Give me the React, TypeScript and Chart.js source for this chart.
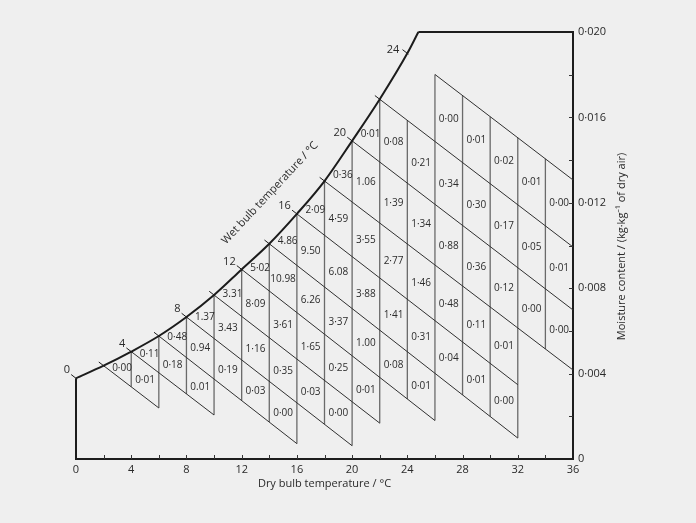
import React, { useEffect, useRef } from "react";
import { Chart, registerables } from "chart.js";

Chart.register(...registerables);

// Saturation curve (dry bulb °C -> moisture content kg/kg)
const satDb = [0, 2, 4, 6, 8, 10, 12, 14, 16, 18, 20, 22, 24, 24.8];
const satW = [0.00378, 0.00437, 0.00503, 0.00576, 0.00665, 0.00768, 0.00888, 0.01008, 0.01148, 0.01302, 0.0149, 0.01685, 0.019, 0.02];

// Wet bulb lines: start on the saturation curve at their own temperature, end at (endDb, endW)
const wbValues = [2, 4, 6, 8, 10, 12, 14, 16, 18, 20, 22, 24];
const wbEndDb = [6, 10, 16, 20, 22, 26, 32, 32, 36, 36, 36, 36];
const wbEndW = [0.00239, 0.00206, 0.00072, 0.00062, 0.00168, 0.0018, 0.00098, 0.00348, 0.00417, 0.00698, 0.00993, 0.01307];

// Curve labels
const wbLabelTemps = [0, 4, 8, 12, 16, 20, 24];

// Grid columns (dry bulb start), top and bottom wet-bulb rows, and cell values (top to bottom)
const colStart = [2, 4, 6, 8, 10, 12, 14, 16, 18, 20, 22, 24, 26, 28, 30, 32, 34];
const colTopRow = [2, 4, 6, 8, 10, 12, 14, 16, 18, 20, 20, 20, 22, 22, 22, 22, 22];
const colBottomRow = [2, 2, 4, 4, 6, 6, 6, 8, 8, 10, 12, 12, 14, 14, 14, 18, 18];
const colLabels = [
  ["0·00"],
  ["0·11", "0·01"],
  ["0·48", "0·18"],
  ["1.37", "0.94", "0.01"],
  ["3.31", "3.43", "0·19"],
  ["5·02", "8·09", "1·16", "0·03"],
  ["4.86", "10.98", "3·61", "0·35", "0·00"],
  ["2·09", "9.50", "6.26", "1·65", "0·03"],
  ["0·36", "4·59", "6.08", "3·37", "0·25", "0·00"],
  ["0·01", "1.06", "3·55", "3·88", "1.00", "0·01"],
  ["0·08", "1·39", "2·77", "1·41", "0·08"],
  ["0·21", "1·34", "1·46", "0·31", "0·01"],
  ["0·00", "0·34", "0·88", "0·48", "0·04"],
  ["0·01", "0·30", "0·36", "0·11", "0·01"],
  ["0·02", "0·17", "0·12", "0·01", "0·00"],
  ["0·01", "0·05", "0·00"],
  ["0·00", "0·01", "0·00"],
];

const X_MIN = 0, X_MAX = 36, Y_MIN = 0, Y_MAX = 0.02;
const FONT = "'Open Sans', 'Noto Sans', sans-serif";
const INK = "#1c1c1c";
const TEXT = "#2a2a2a";

function satAt(db: number): number {
  const i = satDb.indexOf(db);
  return satW[i];
}
function lineW(wb: number, db: number): number {
  const i = wbValues.indexOf(wb);
  const x0 = wb, y0 = satAt(wb), x1 = wbEndDb[i], y1 = wbEndW[i];
  return y0 + ((y1 - y0) * (db - x0)) / (x1 - x0);
}
function colTopW(ci: number, db: number): number {
  const d = colStart[ci], tr = colTopRow[ci];
  if (tr === d) return satAt(db);
  return lineW(tr + 2, db);
}
function colBottomW(ci: number, db: number): number {
  return lineW(colBottomRow[ci], db);
}

function buildLineDatasets() {
  const sets: any[] = [];
  const base = { showLine: true, pointRadius: 0, clip: false as any, fill: false, tension: 0 };
  // frame: saturation curve, top line, left line
  sets.push({ ...base, data: satDb.map((x, i) => ({ x, y: satW[i] })), borderColor: INK, borderWidth: 2, cubicInterpolationMode: "monotone" });
  sets.push({ ...base, data: [{ x: satDb[satDb.length - 1], y: Y_MAX }, { x: X_MAX, y: Y_MAX }], borderColor: INK, borderWidth: 2 });
  sets.push({ ...base, data: [{ x: 0, y: 0 }, { x: 0, y: satW[0] }], borderColor: INK, borderWidth: 2 });
  // wet bulb lines drawn over the columns that use them
  wbValues.forEach((wb) => {
    let lo = Infinity, hi = -Infinity;
    colStart.forEach((d, ci) => {
      const tr = colTopRow[ci], br = colBottomRow[ci];
      const topLine = tr === d ? tr : tr + 2;
      if (wb >= br && wb <= topLine) {
        lo = Math.min(lo, d);
        hi = Math.max(hi, d + 2);
      }
    });
    if (lo < hi) {
      sets.push({ ...base, data: [{ x: lo, y: lineW(wb, lo) }, { x: hi, y: lineW(wb, hi) }], borderColor: "#303030", borderWidth: 1 });
    }
  });
  // verticals
  for (let v = 4; v <= 34; v += 2) {
    const left = colStart.indexOf(v - 2), right = colStart.indexOf(v);
    const tops: number[] = [], bots: number[] = [];
    if (left >= 0) { tops.push(colTopW(left, v)); bots.push(colBottomW(left, v)); }
    if (right >= 0) { tops.push(colTopW(right, v)); bots.push(colBottomW(right, v)); }
    sets.push({ ...base, data: [{ x: v, y: Math.max(...tops) }, { x: v, y: Math.min(...bots) }], borderColor: "#6a6a6a", borderWidth: 1.3 });
  }
  return sets;
}

const overlayPlugin = {
  id: "overlay",
  afterDatasetsDraw(chart: any) {
    const ctx = chart.ctx as CanvasRenderingContext2D;
    const xs = chart.scales.x, ys = chart.scales.y;
    const px = (v: number) => xs.getPixelForValue(v);
    const py = (v: number) => ys.getPixelForValue(v);
    const area = chart.chartArea;
    ctx.save();
    // inward axis ticks
    ctx.strokeStyle = "#333";
    ctx.lineWidth = 1;
    ctx.beginPath();
    for (let v = 2; v < X_MAX; v += 2) {
      const x = Math.round(px(v)) + 0.5;
      ctx.moveTo(x, area.bottom);
      ctx.lineTo(x, area.bottom - 4);
    }
    for (let i = 1; i < 10; i++) {
      const y = Math.round(py(i * 0.002)) + 0.5;
      ctx.moveTo(area.right, y);
      ctx.lineTo(area.right - 4, y);
    }
    ctx.stroke();
    // ticks on saturation curve
    ctx.strokeStyle = INK;
    ctx.beginPath();
    for (let wb = 0; wb <= 24; wb += 2) {
      const li = wbValues.indexOf(wb);
      const s = li >= 0 ? (satAt(wb) - wbEndW[li]) / (wbEndDb[li] - wb) : 0.0005;
      const y0 = satAt(wb);
      ctx.moveTo(px(wb - 0.35), py(y0 + s * 0.35));
      ctx.lineTo(px(wb + 0.08), py(y0 - s * 0.08));
    }
    ctx.stroke();
    // curve labels
    ctx.fillStyle = TEXT;
    ctx.font = `11px ${FONT}`;
    ctx.textAlign = "right";
    ctx.textBaseline = "middle";
    wbLabelTemps.forEach((t) => {
      const dy = t >= 24 ? -3 : -8;
      ctx.fillText(String(t), px(t) - (t >= 24 ? 8 : 6), py(satAt(t)) + dy);
    });
    // cell labels
    ctx.font = `10px ${FONT}`;
    ctx.textAlign = "center";
    ctx.fillStyle = "#2c2c2c";
    colStart.forEach((d, ci) => {
      const labels = colLabels[ci];
      let k = 0;
      for (let r = colTopRow[ci]; r >= colBottomRow[ci]; r -= 2, k++) {
        let cx: number, cy: number;
        if (r === d) {
          const xsA = [d, d + 2, d + 2];
          const ysA = [satAt(d), satAt(d + 2), lineW(r, d + 2)];
          cx = (xsA[0] + xsA[1] + xsA[2]) / 3;
          cy = (ysA[0] + ysA[1] + ysA[2]) / 3;
        } else {
          cx = d + 1;
          cy = (lineW(r, d + 1) + lineW(r + 2, d + 1)) / 2;
        }
        ctx.fillText(labels[k], px(cx), py(cy) + 0.5);
      }
    });
    // titles
    ctx.fillStyle = TEXT;
    ctx.font = `11px ${FONT}`;
    ctx.textAlign = "center";
    ctx.fillText("Dry bulb temperature / °C", (area.left + area.right) / 2, area.bottom + 25);
    ctx.save();
    ctx.translate(area.right + 49, (area.top + area.bottom) / 2 + 1);
    ctx.rotate(-Math.PI / 2);
    ctx.fillText("Moisture content / (kg·kg\u207B\u00B9 of dry air)", 0, 0);
    ctx.restore();
    ctx.save();
    ctx.translate(270, 193);
    ctx.rotate(-47 * Math.PI / 180);
    ctx.fillText("Wet bulb temperature / °C", 0, 0);
    ctx.restore();
    ctx.restore();
  },
};

export default function App() {
  const ref = useRef<HTMLCanvasElement | null>(null);
  useEffect(() => {
    if (!ref.current) return;
    Chart.defaults.font.family = FONT;
    const chart = new Chart(ref.current, {
      type: "scatter",
      data: { datasets: buildLineDatasets() },
      options: {
        animation: false,
        responsive: true,
        maintainAspectRatio: false,
        devicePixelRatio: 1,
        layout: { padding: { left: 76, top: 32, right: 0, bottom: 0 } },
        plugins: { legend: { display: false }, tooltip: { enabled: false } },
        events: [],
        scales: {
          x: {
            type: "linear",
            min: X_MIN,
            max: X_MAX,
            grid: { display: false, drawTicks: false },
            border: { display: true, color: INK, width: 2 },
            ticks: {
              stepSize: 2,
              autoSkip: false,
              maxRotation: 0,
              padding: 4,
              color: TEXT,
              font: { size: 11 },
              callback: (v: any) => (Number(v) % 4 === 0 ? String(v) : ""),
            },
            afterFit: (s: any) => { s.height = 64; },
          },
          y: {
            type: "linear",
            position: "right",
            min: Y_MIN,
            max: Y_MAX,
            grid: { display: false, drawTicks: false },
            border: { display: true, color: INK, width: 2 },
            ticks: {
              stepSize: 0.002,
              autoSkip: false,
              padding: 5,
              color: TEXT,
              font: { size: 11 },
              callback: (v: any) => {
                const m = Math.round(Number(v) * 1000);
                if (m % 4 !== 0) return "";
                return m === 0 ? "0" : Number(v).toFixed(3).replace(".", "·");
              },
            },
            afterFit: (s: any) => { s.width = 123; },
          },
        },
      } as any,
      plugins: [overlayPlugin],
    });
    return () => chart.destroy();
  }, []);
  return (
    <div style={{ position: "fixed", left: 0, top: 0, width: 696, height: 523, background: "#efefef" }}>
      <canvas ref={ref} />
    </div>
  );
}
